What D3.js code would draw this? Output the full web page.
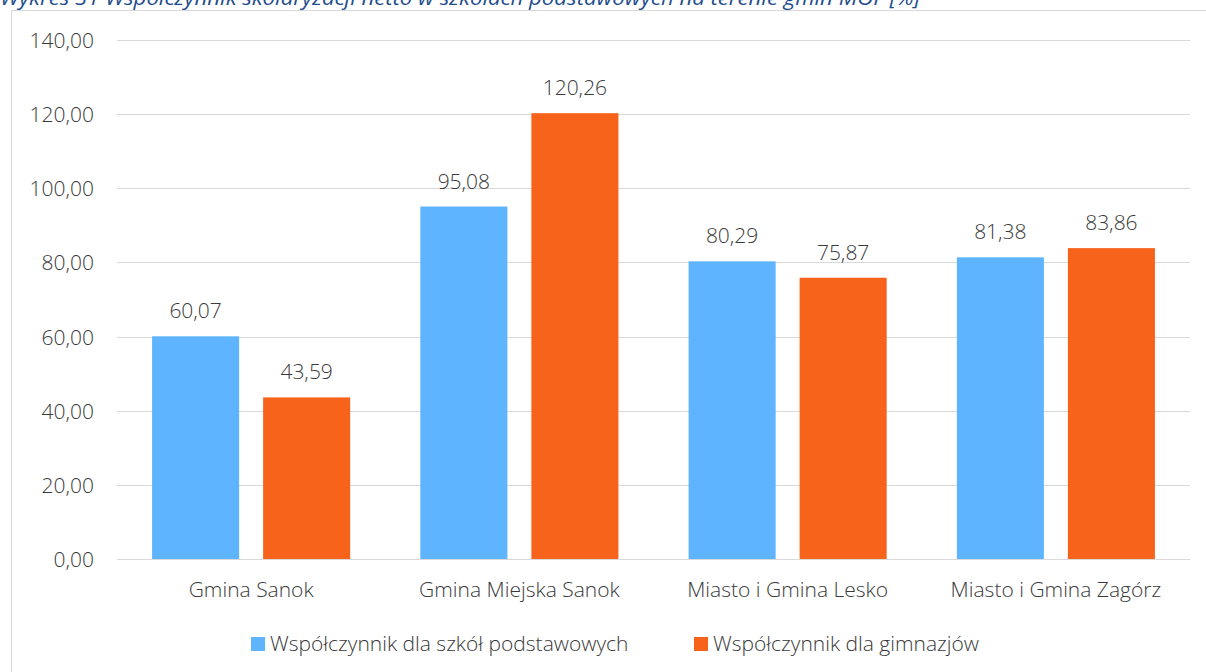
<!DOCTYPE html>
<html>
<head>
<meta charset="utf-8">
<script src="https://cdn.jsdelivr.net/npm/d3@7"></script>
<style>
  html, body { margin: 0; padding: 0; background: #fff; }
  svg { display: block; }
</style>
</head>
<body>
<svg id="chart" width="1206" height="672"></svg>
<script>
const title = "Wykres 31 Współczynnik skolaryzacji netto w szkołach podstawowych na terenie gmin MOF [%]";
const categories = ["Gmina Sanok", "Gmina Miejska Sanok", "Miasto i Gmina Lesko", "Miasto i Gmina Zagórz"];
const seriesNames = ["Współczynnik dla szkół podstawowych", "Współczynnik dla gimnazjów"];
const primaryValues = [60.07, 95.08, 80.29, 81.38];
const gymnasiumValues = [43.59, 120.26, 75.87, 83.86];
const yTicks = [0, 20, 40, 60, 80, 100, 120, 140];
const colors = ["#5EB4FE", "#F8631B"];

(function () {
const seriesValues = [primaryValues, gymnasiumValues];
const fmt = v => v.toFixed(2).replace(".", ",");
const font = "'Open Sans', 'Noto Sans', sans-serif";
const fs = 21;
const txt = "#3a3a3a";

const svg = d3.select("#chart");

// frame
svg.append("rect")
  .attr("x", 11.5).attr("y", 10.5)
  .attr("width", 1206).attr("height", 700)
  .attr("fill", "#fff").attr("stroke", "#d9d9d9").attr("stroke-width", 1);

// title (clipped at top as in reference)
svg.append("text")
  .attr("x", 0).attr("y", 5)
  .attr("font-family", font)
  .attr("font-style", "italic")
  .attr("font-size", 20)
  .attr("fill", "#1F4E8C")
  .attr("textLength", 920)
  .attr("lengthAdjust", "spacingAndGlyphs")
  .text(title);

const pLeft = 117, pRight = 1190, pTop = 40, pBottom = 559;

const y = d3.scaleLinear().domain([0, 140]).range([pBottom, pTop]);
const x0 = d3.scaleBand().domain(categories).range([pLeft, pRight]).paddingInner(0).paddingOuter(0);
const x1 = d3.scaleBand().domain(d3.range(seriesNames.length)).range([0, x0.bandwidth()])
  .paddingInner(0.216).paddingOuter(0.316);

// gridlines
svg.append("g").selectAll("line").data(yTicks).join("line")
  .attr("x1", pLeft).attr("x2", pRight)
  .attr("y1", d => Math.round(y(d)) + 0.5).attr("y2", d => Math.round(y(d)) + 0.5)
  .attr("stroke", "#d9d9d9").attr("stroke-width", 1);

// y axis labels
const yAxis = d3.axisLeft(y).tickValues(yTicks).tickFormat(fmt).tickSize(0).tickPadding(0);
const gy = svg.append("g").attr("transform", `translate(94,0)`).call(yAxis);
gy.select(".domain").remove();
gy.selectAll("text")
  .attr("font-family", font).attr("font-weight", 300).attr("font-size", fs)
  .attr("fill", txt).attr("dy", "0.36em");

// bars
const groups = svg.append("g").selectAll("g").data(categories).join("g")
  .attr("transform", d => `translate(${x0(d)},0)`);

groups.selectAll("rect")
  .data((c, i) => seriesValues.map((vals, s) => ({ s, v: vals[i] })))
  .join("rect")
  .attr("x", d => x1(d.s))
  .attr("width", x1.bandwidth())
  .attr("y", d => y(d.v))
  .attr("height", d => y(0) - y(d.v))
  .attr("fill", d => colors[d.s]);

groups.selectAll("text.val")
  .data((c, i) => seriesValues.map((vals, s) => ({ s, v: vals[i] })))
  .join("text")
  .attr("class", "val")
  .attr("x", d => x1(d.s) + x1.bandwidth() / 2)
  .attr("y", d => y(d.v) - 18)
  .attr("text-anchor", "middle")
  .attr("font-family", font).attr("font-weight", 300).attr("font-size", fs)
  .attr("fill", txt)
  .text(d => fmt(d.v));

// x axis labels
const xAxis = d3.axisBottom(x0).tickSize(0).tickPadding(0);
const gx = svg.append("g").attr("transform", `translate(0,597)`).call(xAxis);
gx.select(".domain").remove();
gx.selectAll("text")
  .attr("font-family", font).attr("font-weight", 300).attr("font-size", fs)
  .attr("fill", txt).attr("dy", 0);

// legend
const legendX = [251, 694];
const lg = svg.append("g").selectAll("g").data(seriesNames).join("g")
  .attr("transform", (d, i) => `translate(${legendX[i]},637)`);
lg.append("rect").attr("width", 14).attr("height", 14).attr("fill", (d, i) => colors[i]);
lg.append("text").attr("x", 19).attr("y", 14)
  .attr("font-family", font).attr("font-weight", 300).attr("font-size", fs)
  .attr("fill", txt).text(d => d);
})();
</script>
</body>
</html>
